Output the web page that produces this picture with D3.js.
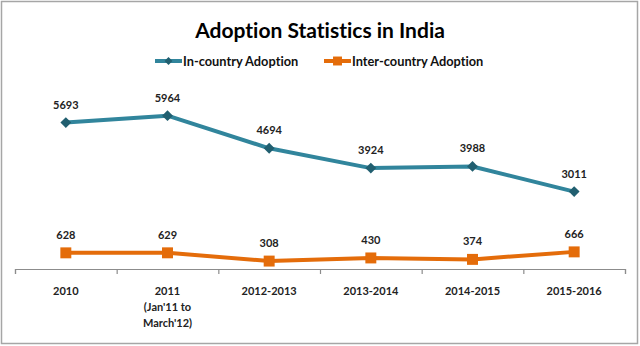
<!DOCTYPE html>
<html>
<head>
<meta charset="utf-8">
<script src="https://cdn.jsdelivr.net/npm/d3@7"></script>
<style>
  body { margin: 0; background: #fff; }
  text { font-family: Lato, "Open Sans", sans-serif; font-weight: bold; font-variant-ligatures: none; }
</style>
</head>
<body>
<div id="chart"></div>
<script>
// data
var categories = ["2010", "2011|(Jan'11 to|March'12)", "2012-2013", "2013-2014", "2014-2015", "2015-2016"];
var inCountry = [5693, 5964, 4694, 3924, 3988, 3011];
var interCountry = [628, 629, 308, 430, 374, 666];
var seriesNames = ["In-country Adoption", "Inter-country Adoption"];

var width = 640, height = 346;
var plot = {left: 15, right: 625, top: 89, bottom: 269};

var svg = d3.select("#chart").append("svg")
    .attr("width", width)
    .attr("height", height);

// outer frame
svg.append("rect")
    .attr("x", 1.5).attr("y", 1.5)
    .attr("width", 636).attr("height", 342)
    .attr("fill", "#fff")
    .attr("stroke", "#a6a6a6")
    .attr("stroke-width", 1.5);

var x = d3.scaleBand()
    .domain(categories)
    .range([plot.left, plot.right]);

var y = d3.scaleLinear()
    .domain([0, 7000])
    .range([plot.bottom, plot.top]);

// tick marks sit between categories
var xEdge = d3.scaleLinear()
    .domain([0, categories.length])
    .range([plot.left, plot.right]);

var axis = svg.append("g")
    .attr("transform", "translate(0," + plot.bottom + ")")
    .call(d3.axisBottom(xEdge).ticks(categories.length).tickSize(5).tickFormat(""));
axis.selectAll("path, line").attr("stroke", "#8c8c8c").attr("stroke-width", 1.2);

// category labels, split on |
var lab = svg.append("g").selectAll("text")
    .data(categories)
    .enter().append("text")
    .attr("text-anchor", "middle")
    .attr("font-size", 11)
    .attr("fill", "#222")
    .attr("x", function(d) { return x(d) + x.bandwidth() / 2; });
lab.each(function(d) {
    var t = d3.select(this);
    d.split("|").forEach(function(s, i) {
        t.append("tspan")
            .attr("x", t.attr("x"))
            .attr("y", 295 + i * 16)
            .text(s);
    });
});

var line = d3.line()
    .x(function(d, i) { return x(categories[i]) + x.bandwidth() / 2; })
    .y(function(d) { return y(d); });

var colors = ["#31859c", "#e46c0a"];
var markColors = ["#215f70", "#e46c0a"];

[inCountry, interCountry].forEach(function(vals, k) {
    svg.append("path")
        .datum(vals)
        .attr("fill", "none")
        .attr("stroke", colors[k])
        .attr("stroke-width", 4)
        .attr("stroke-linejoin", "round")
        .attr("d", line);

    var sym = d3.symbol()
        .type(k == 0 ? d3.symbolDiamond2 : d3.symbolSquare)
        .size(k == 0 ? 75 : 120);

    svg.append("g").selectAll("path")
        .data(vals)
        .enter().append("path")
        .attr("d", sym)
        .attr("fill", markColors[k])
        .attr("transform", function(d, i) {
            return "translate(" + (x(categories[i]) + x.bandwidth() / 2) + "," + y(d) + ")";
        });

    svg.append("g").selectAll("text")
        .data(vals)
        .enter().append("text")
        .attr("text-anchor", "middle")
        .attr("font-size", 11)
        .attr("fill", "#222")
        .attr("x", function(d, i) { return x(categories[i]) + x.bandwidth() / 2; })
        .attr("y", function(d) { return y(d) - 14; })
        .text(function(d) { return d; });
});

// title
svg.append("text")
    .attr("x", 320)
    .attr("y", 38)
    .attr("text-anchor", "middle")
    .attr("font-size", 21)
    .attr("fill", "#000")
    .text("Adoption Statistics in India");

// legend
var legX = [155, 324];
seriesNames.forEach(function(name, k) {
    var g = svg.append("g").attr("transform", "translate(" + legX[k] + ",61)");
    g.append("line")
        .attr("x1", 0).attr("x2", 27)
        .attr("stroke", colors[k]).attr("stroke-width", 4);
    g.append("path")
        .attr("d", d3.symbol().type(k == 0 ? d3.symbolDiamond2 : d3.symbolSquare).size(k == 0 ? 40 : 80))
        .attr("transform", "translate(13.5,0)")
        .attr("fill", markColors[k]);
    g.append("text")
        .attr("x", 28)
        .attr("y", 4.5)
        .attr("font-size", 12.8)
        .attr("fill", "#111")
        .text(name);
});
</script>
</body>
</html>
